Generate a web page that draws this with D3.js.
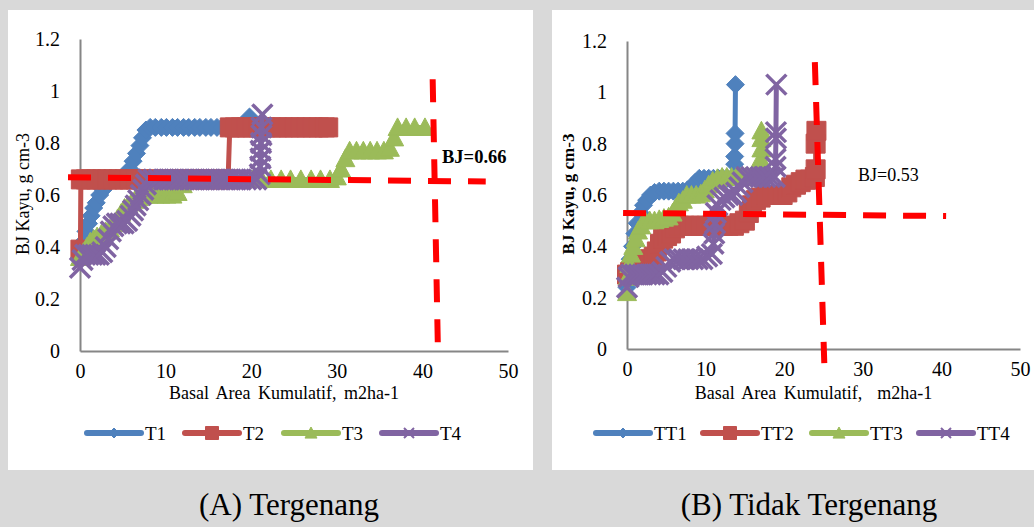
<!DOCTYPE html>
<html>
<head>
  <meta charset="utf-8">
  <title>BJ Kayu vs Basal Area Kumulatif</title>
  <style>
    body{
      margin: 0;
      padding: 0;
      background-color: #d9d9d9;
    }
    svg text{
      font-family: "Liberation Serif", "Times New Roman", serif;
      fill: #000;
    }
    .axis path{
      stroke: #868686;
      stroke-width: 2;
    }
    .axis text{
      font-size: 20px;
    }
  </style>
</head>
<body>
<svg id="chart" width="1034" height="527"></svg>

<script src="https://d3js.org/d3.v7.min.js"></script>
<script>

// ---- data ----
var xTicks = [0, 10, 20, 30, 40, 50];
var yTicks = [0, 0.2, 0.4, 0.6, 0.8, 1, 1.2];
var yTickLabels = ["0", "0.2", "0.4", "0.6", "0.8", "1", "1.2"];

// (A) Tergenang
var t1 = [[0.1,0.38],[0.4,0.42],[0.7,0.46],[1.0,0.49],[1.3,0.52],[1.6,0.55],[1.9,0.57],[2.3,0.6],[2.7,0.62],[3.2,0.64],[3.8,0.66],[4.5,0.66],[5.2,0.67],[5.8,0.7],[6.2,0.73],[6.6,0.76],[7.0,0.79],[7.3,0.82],[7.7,0.85],[8.2,0.86],[8.8,0.86],[9.5,0.86],[10.1,0.86],[10.8,0.86],[11.4,0.86],[12.1,0.86],[12.7,0.86],[13.4,0.86],[14.0,0.86],[14.7,0.86],[15.3,0.86],[16.0,0.86],[16.6,0.86],[17.3,0.86],[17.9,0.86],[18.6,0.86],[19.2,0.87],[19.8,0.9]];
var t2 = [[0.05,0.39],[0.1,0.66],[0.7,0.66],[1.3,0.66],[1.9,0.66],[2.6,0.66],[3.2,0.66],[3.9,0.66],[4.5,0.66],[5.2,0.66],[5.8,0.66],[6.5,0.66],[7.2,0.66],[8.0,0.66],[9.0,0.66],[10.0,0.66],[11.0,0.66],[12.0,0.66],[13.0,0.66],[14.0,0.66],[15.0,0.66],[16.0,0.66],[17.3,0.66],[17.5,0.86],[18.1,0.86],[18.8,0.86],[19.5,0.86],[20.2,0.86],[20.9,0.86],[21.6,0.86],[22.3,0.86],[23.0,0.86],[23.7,0.86],[24.4,0.86],[25.1,0.86],[25.8,0.86],[26.5,0.86],[27.2,0.86],[27.9,0.86],[28.6,0.86],[29.0,0.86]];
var t3 = [[0.0,0.36],[0.4,0.38],[0.8,0.4],[1.2,0.42],[1.6,0.43],[2.0,0.44],[2.5,0.45],[3.0,0.46],[3.5,0.47],[4.0,0.49],[4.4,0.51],[4.8,0.53],[5.2,0.55],[5.6,0.56],[6.0,0.57],[6.4,0.58],[6.9,0.59],[7.4,0.6],[8.0,0.6],[8.7,0.6],[9.4,0.6],[10.1,0.6],[10.8,0.6],[11.4,0.61],[12.0,0.64],[12.5,0.66],[13.5,0.66],[14.6,0.66],[15.7,0.66],[16.8,0.66],[17.9,0.66],[19.0,0.66],[20.1,0.66],[21.2,0.66],[22.3,0.66],[23.5,0.66],[24.6,0.66],[25.8,0.66],[27.0,0.66],[28.1,0.66],[29.2,0.66],[30.0,0.67],[30.5,0.7],[31.0,0.74],[31.5,0.77],[32.3,0.77],[33.1,0.77],[33.9,0.77],[34.7,0.77],[35.5,0.77],[36.2,0.78],[36.7,0.82],[37.1,0.86],[38.1,0.86],[39.1,0.86],[40.3,0.86]];
var t4 = [[0.0,0.32],[0.3,0.35],[0.6,0.37],[1.0,0.37],[1.4,0.37],[1.8,0.37],[2.2,0.37],[2.6,0.38],[3.0,0.4],[3.3,0.43],[3.6,0.46],[3.9,0.48],[4.3,0.49],[4.7,0.49],[5.1,0.49],[5.5,0.5],[5.9,0.52],[6.2,0.54],[6.5,0.56],[6.8,0.58],[7.1,0.6],[7.4,0.62],[7.7,0.64],[8.0,0.66],[8.6,0.66],[9.2,0.66],[9.8,0.66],[10.4,0.66],[11.0,0.66],[11.6,0.66],[12.2,0.66],[12.8,0.66],[13.4,0.66],[14.0,0.66],[14.6,0.66],[15.2,0.66],[15.8,0.66],[16.4,0.66],[17.0,0.66],[17.6,0.66],[18.2,0.66],[18.8,0.66],[19.4,0.66],[20.0,0.66],[20.6,0.66],[21.0,0.68],[21.05,0.71],[21.1,0.74],[21.1,0.77],[21.15,0.8],[21.2,0.83],[21.2,0.86],[21.3,0.91]];
var refA_h = [[-1.4,0.668],[47.4,0.652]];
var refA_v = [[41.2,1.045],[41.8,0.027]];

// (B) Tidak Tergenang
var tt1 = [[0.0,0.24],[0.2,0.3],[0.4,0.35],[0.7,0.4],[1.0,0.45],[1.3,0.49],[1.7,0.53],[2.1,0.56],[2.5,0.58],[3.0,0.6],[3.5,0.61],[4.1,0.615],[4.7,0.615],[5.3,0.615],[5.9,0.615],[6.5,0.615],[7.1,0.615],[7.7,0.62],[8.2,0.63],[8.7,0.65],[9.2,0.665],[9.8,0.665],[10.4,0.665],[11.0,0.665],[11.6,0.665],[12.2,0.665],[12.8,0.665],[13.5,0.67],[13.7,0.72],[13.7,0.75],[13.75,0.8],[13.75,0.84],[13.8,1.03]];
var tt2 = [[0.0,0.29],[0.4,0.3],[0.9,0.3],[1.4,0.31],[1.9,0.33],[2.4,0.34],[2.9,0.35],[3.4,0.36],[3.8,0.38],[4.2,0.41],[4.6,0.43],[5.1,0.44],[5.6,0.45],[6.1,0.47],[6.6,0.48],[7.3,0.48],[8.0,0.48],[8.7,0.48],[9.4,0.48],[10.1,0.48],[10.8,0.48],[11.5,0.48],[12.2,0.48],[12.9,0.48],[13.6,0.48],[14.3,0.49],[15.0,0.5],[15.5,0.53],[15.9,0.56],[16.4,0.58],[17.0,0.59],[17.7,0.6],[18.4,0.6],[19.1,0.6],[19.8,0.6],[20.4,0.61],[20.9,0.63],[21.5,0.64],[22.1,0.65],[22.7,0.66],[23.3,0.66],[23.9,0.67],[24.0,0.7],[24.0,0.8],[24.1,0.85]];
var tt3 = [[0.0,0.22],[0.1,0.28],[0.3,0.33],[0.5,0.37],[0.8,0.4],[1.1,0.43],[1.4,0.46],[1.8,0.48],[2.3,0.5],[2.9,0.5],[3.5,0.5],[4.1,0.505],[4.7,0.51],[5.3,0.515],[5.8,0.53],[6.2,0.55],[6.6,0.57],[7.1,0.58],[7.6,0.6],[8.2,0.6],[8.8,0.6],[9.4,0.605],[9.9,0.62],[10.4,0.64],[10.9,0.655],[11.5,0.665],[12.1,0.67],[12.7,0.67],[13.3,0.67],[13.9,0.67],[14.5,0.67],[15.1,0.67],[15.7,0.67],[16.3,0.67],[16.9,0.67],[17.0,0.7],[17.0,0.74],[17.1,0.78],[17.1,0.82],[17.1,0.85]];
var tt4 = [[0.0,0.24],[0.2,0.28],[0.5,0.29],[1.0,0.29],[1.5,0.29],[2.0,0.29],[2.5,0.29],[3.0,0.29],[3.5,0.29],[4.0,0.29],[4.5,0.3],[5.0,0.32],[5.5,0.34],[6.0,0.35],[6.6,0.35],[7.2,0.35],[7.8,0.35],[8.4,0.35],[9.0,0.35],[9.6,0.35],[10.2,0.36],[10.8,0.37],[11.0,0.41],[11.1,0.45],[11.2,0.49],[11.3,0.53],[11.5,0.56],[11.9,0.58],[12.4,0.59],[12.9,0.6],[13.4,0.6],[13.9,0.61],[14.3,0.63],[14.7,0.65],[15.2,0.67],[15.8,0.67],[16.4,0.67],[17.0,0.67],[17.6,0.67],[18.2,0.67],[18.8,0.67],[18.9,0.71],[18.9,0.74],[18.95,0.82],[18.95,0.845],[19.0,1.03]];
var refB_h = [[-0.5,0.53],[40.6,0.518]];
var refB_v = [[23.9,1.118],[25.1,-0.055]];

var seriesNamesA = ["T1", "T2", "T3", "T4"];
var seriesNamesB = ["TT1", "TT2", "TT3", "TT4"];
var colors = ["#4F81BD", "#C0504D", "#9BBB59", "#8064A2"];
var markers = ["diamond", "square", "triangle", "x"];

// ---- drawing ----
var serif = "'Liberation Serif', 'Times New Roman', serif";
var svg = d3.select("#chart");

svg.append("rect").attr("width", 1034).attr("height", 527).attr("fill", "#d9d9d9");

function markerPath(type, r) {
  if (type == "diamond") return "M0," + (-r) + "L" + r + ",0L0," + r + "L" + (-r) + ",0Z";
  if (type == "square") return "M" + (-r) + "," + (-r) + "h" + (2*r) + "v" + (2*r) + "h" + (-2*r) + "Z";
  if (type == "triangle") return "M0," + (-r) + "L" + r + "," + (r*0.85) + "L" + (-r) + "," + (r*0.85) + "Z";
  return "M" + (-r) + "," + (-r) + "L" + r + "," + r + "M" + r + "," + (-r) + "L" + (-r) + "," + r;
}
var plotR = {diamond: 9, square: 9.5, triangle: 9.5, x: 10};
var legR = {diamond: 5, square: 6.5, triangle: 6, x: 5};

function drawPanel(p) {
  var g = svg.append("g");

  g.append("rect")
    .attr("x", p.box[0]).attr("y", p.box[1])
    .attr("width", p.box[2]).attr("height", p.box[3])
    .attr("fill", "#fff");

  var x = d3.scaleLinear().domain([0, 50]).range([p.left, p.right]);
  var y = d3.scaleLinear().domain([0, 1.2]).range([p.bottom, p.top]);

  //axis left
  g.append("g")
    .attr("class", "axis")
    .attr("transform", "translate(" + p.left + ",0)")
    .call(d3.axisLeft(y).tickValues(yTicks).tickSize(0).tickPadding(20)
      .tickFormat(function(d, i) { return yTickLabels[i]; }))
    .attr("font-family", serif).attr("font-size", 20);

  //axis bottom
  g.append("g")
    .attr("class", "axis")
    .attr("transform", "translate(0," + p.bottom + ")")
    .call(d3.axisBottom(x).tickValues(xTicks).tickSize(0).tickPadding(13))
    .attr("font-family", serif).attr("font-size", 20);

  var line = d3.line().x(function(d) { return x(d[0]); }).y(function(d) { return y(d[1]); });

  p.series.forEach(function(s, i) {
    g.append("path")
      .attr("d", line(s))
      .attr("fill", "none")
      .attr("stroke", colors[i])
      .attr("stroke-width", 5)
      .attr("stroke-linejoin", "round")
      .attr("stroke-linecap", "round");

    var isX = markers[i] == "x";
    g.selectAll(".m" + i)
      .data(s)
      .enter().append("path")
      .attr("transform", function(d) { return "translate(" + x(d[0]) + "," + y(d[1]) + ")"; })
      .attr("d", markerPath(markers[i], plotR[markers[i]]))
      .attr("fill", isX ? "none" : colors[i])
      .attr("stroke", colors[i])
      .attr("stroke-width", isX ? 3.5 : 1);
  });

  // reference dashed lines
  [p.refH, p.refV].forEach(function(r) {
    g.append("path")
      .attr("d", line(r))
      .attr("fill", "none")
      .attr("stroke", "#FF0000")
      .attr("stroke-width", 6)
      .attr("stroke-dasharray", "23,17");
  });

  g.append("text")
    .attr("x", p.bjPos[0]).attr("y", p.bjPos[1])
    .attr("font-size", p.bjBold ? "18.5px" : "18px")
    .attr("font-weight", p.bjBold ? "bold" : "normal")
    .text(p.bjText);

  // axis titles
  g.append("text")
    .attr("x", (p.left + p.right) / 2 - 10).attr("y", 399)
    .attr("text-anchor", "middle")
    .attr("font-size", "18px")
    .attr("word-spacing", p.wordSpace)
    .text("Basal Area Kumulatif, " + (p.extraSpace ? "\u00a0" : "") + "m2ha-1");

  g.append("text")
    .attr("transform", "translate(" + p.yTitleX + ",194) rotate(-90)")
    .attr("text-anchor", "middle")
    .attr("font-size", p.yTitleBold ? "17px" : "18px")
    .attr("font-weight", p.yTitleBold ? "bold" : "normal")
    .text("BJ Kayu, g cm-3");

  // legend
  p.names.forEach(function(n, i) {
    var lx = p.legX[i];
    g.append("line")
      .attr("x1", lx).attr("x2", lx + 54)
      .attr("y1", 433).attr("y2", 433)
      .attr("stroke", colors[i])
      .attr("stroke-width", 6)
      .attr("stroke-linecap", "round");
    var isX = markers[i] == "x";
    g.append("path")
      .attr("transform", "translate(" + (lx + 27) + ",433)")
      .attr("d", markerPath(markers[i], legR[markers[i]]))
      .attr("fill", isX ? "none" : colors[i])
      .attr("stroke", colors[i])
      .attr("stroke-width", isX ? 2 : 1);
    g.append("text")
      .attr("x", lx + 58).attr("y", 440)
      .attr("font-size", "19px")
      .text(n);
  });

  g.append("text")
    .attr("x", p.capX).attr("y", 515)
    .attr("text-anchor", "middle")
    .attr("font-size", "31px")
    .text(p.caption);
}

drawPanel({
  box: [8, 10, 525, 460],
  left: 80, right: 508, top: 39, bottom: 351,
  series: [t1, t2, t3, t4],
  refH: refA_h, refV: refA_v,
  bjText: "BJ=0.66", bjBold: true, bjPos: [442, 163],
  wordSpace: 3, extraSpace: false,
  yTitleX: 29, yTitleBold: false,
  names: seriesNamesA,
  legX: [87, 185, 284, 382],
  capX: 289, caption: "(A) Tergenang"
});

drawPanel({
  box: [552, 10, 482, 460],
  left: 627, right: 1020, top: 41, bottom: 349,
  series: [tt1, tt2, tt3, tt4],
  refH: refB_h, refV: refB_v,
  bjText: "BJ=0.53", bjBold: false, bjPos: [858, 181],
  wordSpace: 3, extraSpace: true,
  yTitleX: 574, yTitleBold: true,
  names: seriesNamesB,
  legX: [596, 703, 812, 919],
  capX: 809, caption: "(B) Tidak Tergenang"
});

</script>
</body>
</html>
